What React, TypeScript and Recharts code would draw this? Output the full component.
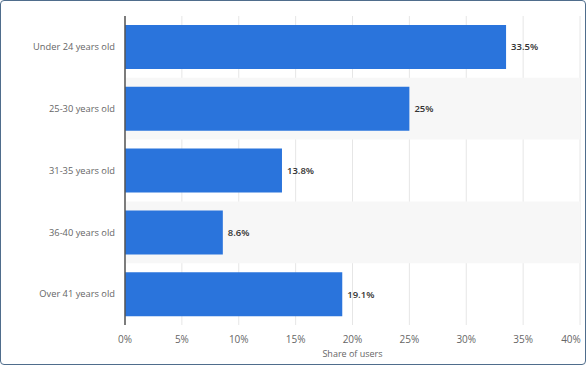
import React from "react";
import {
  BarChart,
  Bar,
  XAxis,
  YAxis,
  CartesianGrid,
  ReferenceArea,
  LabelList,
} from "recharts";

const categories = [
  "Under 24 years old",
  "25-30 years old",
  "31-35 years old",
  "36-40 years old",
  "Over 41 years old",
];
const shares = [33.5, 25, 13.8, 8.6, 19.1];
const xTicks = [0, 5, 10, 15, 20, 25, 30, 35, 40];
const shadedBands = ["25-30 years old", "36-40 years old"];

const data = categories.map((name, i) => ({ name, value: shares[i] }));

const FONT = "'Open Sans', 'DejaVu Sans', sans-serif";

function XTick(props: any) {
  const { x, y, payload } = props;
  // last label pulled in so it stays inside the frame
  const dx = payload.value === 40 ? -9 : 0;
  return (
    <text
      x={x + dx}
      y={y + 10}
      textAnchor="middle"
      fill="#666"
      fontSize={10}
      fontFamily={FONT}
    >
      {payload.value}%
    </text>
  );
}

export default function App() {
  return (
    <div
      style={{
        position: "absolute",
        left: 0,
        top: 0,
        width: 586,
        height: 365,
        background: "#fff",
      }}
    >
      <div
        style={{
          position: "absolute",
          left: 0,
          top: 0,
          width: 586,
          height: 365,
          boxSizing: "border-box",
          border: "1px solid #4f6d8c",
          borderRadius: 4,
        }}
      />
      <BarChart
        width={586}
        height={365}
        data={data}
        layout="vertical"
        margin={{ top: 16, right: 6, left: 0, bottom: 0 }}
        barCategoryGap={9}
        style={{ fontFamily: FONT }}
      >
        {shadedBands.map((b) => (
          <ReferenceArea
            key={b}
            y1={b}
            y2={b}
            fill="#f7f7f7"
            fillOpacity={1}
            stroke="none"
          />
        ))}
        <CartesianGrid horizontal={false} stroke="#e6e6e6" />
        <XAxis
          type="number"
          domain={[0, 40]}
          ticks={xTicks}
          interval={0}
          axisLine={false}
          tickLine={false}
          tick={<XTick />}
          height={40}
          label={{
            value: "Share of users",
            position: "insideBottom",
            offset: 8,
            fill: "#666",
            fontSize: 9,
          }}
        />
        <YAxis
          type="category"
          dataKey="name"
          width={125}
          tickLine={false}
          axisLine={{ stroke: "#555", strokeWidth: 1.5 }}
          tick={{ fill: "#666", fontSize: 9.3 }}
          tickMargin={4}
        />
        <Bar dataKey="value" fill="#2a74dc" isAnimationActive={false}>
          <LabelList
            dataKey="value"
            position="right"
            offset={5}
            formatter={(v: any) => `${v}%`}
            fill="#333"
            fontSize={9.5}
            fontWeight={600}
          />
        </Bar>
      </BarChart>
    </div>
  );
}
